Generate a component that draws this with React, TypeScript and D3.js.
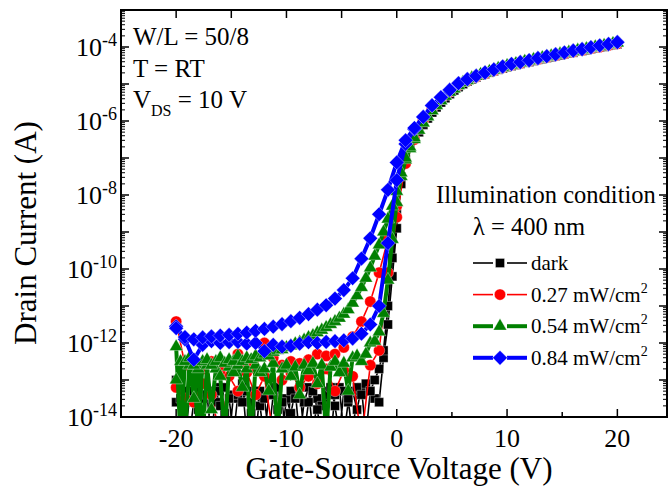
import React from 'react';
import * as d3 from 'd3';

// Gate sweeps: fine (0.4 V) and coarse (0.8 V) steps from -20 V to 20 V
const fineSweep = d3.range(101).map(i => -20 + 0.4 * i);
const coarseSweep = d3.range(51).map(i => -20 + 0.8 * i);

// log10(I_D) values. "Off" arrays cover the start of the sweep up to the knee,
// "On" arrays the shared above-threshold part (no hysteresis there).
const darkFwdOff = [
  -13.6, -13.2, -14.6, -13.5, -13.3, -13.8, -13.4, -14.5, -13.3, -13.6,
  -13.2, -13.9, -14.6, -13.4, -13.5, -13.1, -14.5, -13.6, -13.3, -13.7,
  -14.6, -13.4, -13.2, -13.8, -14.5, -13.5, -13.9, -13.3, -14.6, -13.6,
  -13.2, -14.5, -13.5, -13.7, -13.3, -14.6, -13.4, -13.2, -14.5, -13.6,
  -13.3, -13.8, -13.2, -14.5, -13.3, -13.5, -13.6, -12.4, -11.5, -10.2,
  -8.9, -7.7, -7.05, -6.7, -6.45,
];
const darkRevOff = [
  -13.0, -13.5, -13.3, -14.5, -13.6, -13.2, -13.5, -13.4, -14.6, -13.3,
  -13.7, -13.2, -13.5, -14.5, -13.4, -13.6, -13.3, -13.9, -14.6, -13.3,
  -13.5, -14.5, -13.4, -13.2, -13.6, -14.6, -13.3, -13.5, -13.2, -14.5,
  -13.6, -13.3, -13.8, -14.6, -13.4, -13.2, -13.7, -14.5, -13.3, -13.5,
  -14.6, -13.2, -13.4, -13.1, -13.3, -13.0, -12.7, -12.2, -11.0, -9.7,
  -8.5, -7.5, -7.0, -6.68, -6.43,
];
const darkOn = [
  -6.3, -6.1, -5.93, -5.77, -5.63, -5.5, -5.38, -5.27, -5.17, -5.08,
  -5.0, -4.93, -4.87, -4.82, -4.77, -4.73, -4.69, -4.65, -4.61, -4.58,
  -4.54, -4.51, -4.48, -4.45, -4.42, -4.4, -4.37, -4.34, -4.32, -4.29,
  -4.27, -4.24, -4.22, -4.19, -4.17, -4.15, -4.12, -4.1, -4.08, -4.05,
  -4.03, -4.01, -3.99, -3.96, -3.94, -3.92,
];

const redFwdOff = [
  -13.2, -13.5, -13.6, -13.1, -13.4, -14.6, -12.9, -13.3, -12.8, -13.4,
  -12.9, -14.5, -13.0, -12.8, -13.2, -12.9, -13.1, -12.7, -13.3, -12.75,
  -12.9, -14.6, -12.6, -12.2, -10.1, -8.6, -7.1, -6.48,
];
const redRevOff = [
  -11.42, -12.6, -12.9, -12.7, -12.5, -12.75, -12.6, -12.3, -12.55, -12.7,
  -12.0, -12.4, -12.6, -12.5, -12.55, -12.45, -12.3, -12.35, -12.3, -12.12,
  -11.83, -11.42, -10.88, -10.1, -9.2, -8.3, -7.15, -6.5,
];
const redOn = [
  -5.98, -5.65, -5.41, -5.21, -5.03, -4.91, -4.81, -4.72, -4.64, -4.56,
  -4.49, -4.44, -4.38, -4.33, -4.28, -4.23, -4.18, -4.13, -4.09, -4.04,
  -4.0, -3.95, -3.91,
];

const greenFwdOff = [
  -13.0, -12.5, -14.5, -12.6, -13.5, -12.7, -14.6, -12.6, -13.8, -12.7,
  -12.9, -14.5, -12.65, -12.8, -12.6, -13.2, -12.7, -14.6, -12.6, -12.8,
  -12.7, -13.3, -12.55, -14.5, -12.7, -12.6, -12.9, -12.65, -13.4, -12.6,
  -12.75, -12.55, -13.1, -12.6, -14.5, -12.65, -12.5, -12.8, -12.55, -13.3,
  -12.4, -12.35, -12.5, -12.3, -12.0, -11.95, -11.7, -11.2, -10.3, -9.2,
  -8.2, -7.5, -7.05, -6.75, -6.5,
];
const greenRevOff = [
  -12.1, -14.6, -12.5, -12.4, -12.6, -14.5, -12.5, -12.45, -12.6, -12.5,
  -12.4, -12.55, -12.45, -12.5, -12.35, -12.5, -12.4, -12.45, -12.35, -12.4,
  -12.3, -12.35, -12.25, -12.2, -12.18, -12.12, -12.08, -12.02, -11.98, -11.92,
  -11.85, -11.8, -11.72, -11.65, -11.58, -11.5, -11.42, -11.33, -11.22, -11.1,
  -10.92, -10.72, -10.5, -10.25, -9.97, -9.65, -9.35, -9.0, -8.65, -8.3,
  -7.9, -7.4, -7.0, -6.7, -6.45,
];
const greenOn = [
  -6.25, -6.05, -5.88, -5.72, -5.58, -5.45, -5.33, -5.22, -5.13, -5.04,
  -4.96, -4.9, -4.84, -4.79, -4.74, -4.7, -4.66, -4.62, -4.58, -4.55,
  -4.51, -4.48, -4.45, -4.42, -4.39, -4.37, -4.34, -4.31, -4.29, -4.26,
  -4.24, -4.21, -4.19, -4.16, -4.14, -4.12, -4.09, -4.07, -4.05, -4.02,
  -4.0, -3.98, -3.96, -3.93, -3.91, -3.89,
];

const blueFwdOff = [
  -11.55, -11.9, -12.45, -12.05, -11.95, -12.0, -11.98, -11.97, -12.02, -12.0,
  -12.22, -12.05, -12.1, -12.08, -12.02, -11.98, -12.0, -11.97, -11.95, -11.93,
  -11.88, -11.75, -11.5, -11.0, -9.3, -7.6, -6.62, -6.22,
];
const blueRevOff = [
  -11.6, -11.84, -11.9, -11.85, -11.82, -11.8, -11.78, -11.75, -11.72, -11.67,
  -11.62, -11.56, -11.49, -11.41, -11.32, -11.22, -11.1, -10.98, -10.8, -10.57,
  -10.25, -9.72, -9.17, -8.52, -7.86, -7.12, -6.52, -6.19,
];
const blueOn = [
  -5.89, -5.58, -5.36, -5.16, -4.98, -4.87, -4.78, -4.69, -4.61, -4.53,
  -4.46, -4.41, -4.36, -4.3, -4.25, -4.2, -4.15, -4.1, -4.06, -4.01,
  -3.96, -3.92, -3.87,
];

const legendNames = ['dark', '0.27', '0.54', '0.84'];
const xTickLabels = [-20, -10, 0, 10, 20];
const yTickExponents = [-14, -12, -10, -8, -6, -4];

type Shape = 'square' | 'circle' | 'triangle' | 'diamond';
interface Series {
  name: string;
  color: string;
  lineWidth: number;
  shape: Shape;
  size: number;
  volts: number[];
  fwd: number[];
  rev: number[];
}

const series: Series[] = [
  { name: legendNames[0], color: '#000000', lineWidth: 1.6, shape: 'square', size: 82, volts: fineSweep, fwd: [...darkFwdOff, ...darkOn], rev: [...darkRevOff, ...darkOn] },
  { name: legendNames[1], color: '#ff0000', lineWidth: 1.6, shape: 'circle', size: 100, volts: coarseSweep, fwd: [...redFwdOff, ...redOn], rev: [...redRevOff, ...redOn] },
  { name: legendNames[2], color: '#008000', lineWidth: 4, shape: 'triangle', size: 78, volts: fineSweep, fwd: [...greenFwdOff, ...greenOn], rev: [...greenRevOff, ...greenOn] },
  { name: legendNames[3], color: '#0000ff', lineWidth: 4, shape: 'diamond', size: 108, volts: coarseSweep, fwd: [...blueFwdOff, ...blueOn], rev: [...blueRevOff, ...blueOn] },
];

const FONT = "'Liberation Serif', 'Times New Roman', serif";

const plot = { left: 121, right: 667, top: 10, bottom: 417 };

function symbolPath(shape: Shape, size: number): string {
  const type =
    shape === 'circle' ? d3.symbolCircle : shape === 'triangle' ? d3.symbolTriangle : d3.symbolSquare;
  return d3.symbol().type(type).size(size)() || '';
}

function Marker({ shape, size, color, cx, cy }: { shape: Shape; size: number; color: string; cx: number; cy: number }) {
  const rot = shape === 'diamond' ? ' rotate(45)' : '';
  return (
    <path
      d={symbolPath(shape, size)}
      transform={`translate(${cx},${cy})${rot}`}
      fill={color}
      stroke="#ffffff"
      strokeWidth={0.35}
    />
  );
}

export default function App() {
  const x = d3.scaleLinear().domain([-25, 24.5]).range([plot.left, plot.right]);
  const y = d3.scaleLog().domain([1e-14, 1e-3]).range([plot.bottom, plot.top]);
  const line = d3
    .line<[number, number]>()
    .x(d => x(d[0]))
    .y(d => y(Math.pow(10, d[1])));

  const xTicks = d3.range(-20, 21, 5);
  const yMajor = d3.range(-14, -2);
  const yMinor: number[] = [];
  d3.range(-14, -3).forEach(e => {
    d3.range(2, 10).forEach(m => yMinor.push(m * Math.pow(10, e)));
  });

  return (
    <svg
      width={670}
      height={499}
      viewBox="0 0 670 499"
      style={{ position: 'absolute', left: 0, top: 0, background: '#fff' }}
      fontFamily={FONT}
    >
      <defs>
        <clipPath id="plotArea">
          <rect x={plot.left} y={plot.top} width={plot.right - plot.left} height={plot.bottom - plot.top} />
        </clipPath>
      </defs>
      <rect x={0} y={0} width={670} height={499} fill="#fff" />

      {/* data */}
      <g clipPath="url(#plotArea)">
        {series.map(s => {
          const fwdPts: [number, number][] = s.volts.map((v, i) => [v, s.fwd[i]]);
          const revPts: [number, number][] = s.volts.map((v, i) => [v, s.rev[i]]);
          const path = line([...fwdPts, ...revPts.slice().reverse()]) || '';
          return (
            <g key={s.name}>
              <path d={path} fill="none" stroke={s.color} strokeWidth={s.lineWidth} strokeLinejoin="miter" />
              {[...fwdPts, ...revPts].map((p, i) => (
                <Marker key={i} shape={s.shape} size={s.size} color={s.color} cx={x(p[0])} cy={y(Math.pow(10, p[1]))} />
              ))}
            </g>
          );
        })}
      </g>

      {/* frame */}
      <rect
        x={plot.left}
        y={plot.top}
        width={plot.right - plot.left}
        height={plot.bottom - plot.top}
        fill="none"
        stroke="#000"
        strokeWidth={2}
      />

      {/* x ticks (bottom and top, inward) */}
      {xTicks.map(t => {
        const len = t % 10 === 0 ? 8 : 5;
        return (
          <g key={`xt${t}`}>
            <line x1={x(t)} x2={x(t)} y1={plot.bottom} y2={plot.bottom - len} stroke="#000" strokeWidth={1.5} />
            <line x1={x(t)} x2={x(t)} y1={plot.top} y2={plot.top + 8} stroke="#000" strokeWidth={1.5} />
          </g>
        );
      })}
      {xTickLabels.map(t => (
        <text key={`xl${t}`} x={x(t)} y={447} fontSize={26} textAnchor="middle">
          {t < 0 ? `-${Math.abs(t)}` : `${t}`}
        </text>
      ))}

      {/* y ticks (left and right, inward) */}
      {yMajor.map(e => {
        const yy = y(Math.pow(10, e));
        return (
          <g key={`ym${e}`}>
            <line x1={plot.left} x2={plot.left + 8} y1={yy} y2={yy} stroke="#000" strokeWidth={1.5} />
            <line x1={plot.right} x2={plot.right - 8} y1={yy} y2={yy} stroke="#000" strokeWidth={1.5} />
          </g>
        );
      })}
      {yMinor.map((v, i) => {
        const yy = y(v);
        return (
          <g key={`yn${i}`}>
            <line x1={plot.left} x2={plot.left + 4} y1={yy} y2={yy} stroke="#000" strokeWidth={1} />
            <line x1={plot.right} x2={plot.right - 4} y1={yy} y2={yy} stroke="#000" strokeWidth={1} />
          </g>
        );
      })}
      {yTickExponents.map(e => {
        const yy = y(Math.pow(10, e));
        return (
          <text key={`yl${e}`} x={117} y={yy + 9} fontSize={26} textAnchor="end">
            <tspan>10</tspan>
            <tspan fontSize={18} dy={-10}>{`-${Math.abs(e)}`}</tspan>
          </text>
        );
      })}

      {/* axis titles */}
      <text x={399} y={479} fontSize={31} textAnchor="middle">
        Gate-Source Voltage (V)
      </text>
      <text transform="translate(36,233) rotate(-90)" fontSize={31} textAnchor="middle">
        Drain Current (A)
      </text>

      {/* device conditions */}
      <text x={133} y={45} fontSize={25}>W/L = 50/8</text>
      <text x={133} y={77} fontSize={25}>T = RT</text>
      <text x={133} y={108} fontSize={25}>
        <tspan>V</tspan>
        <tspan fontSize={16} dy={8}>DS</tspan>
        <tspan dy={-8}> = 10 V</tspan>
      </text>

      {/* legend */}
      <text x={436} y={203} fontSize={24.5}>Illumination condition</text>
      <text x={473} y={235} fontSize={24.5}>λ = 400 nm</text>
      {series.map((s, i) => {
        const base = 270 + i * 31.6;
        const cy = base - 7;
        return (
          <g key={`lg${s.name}`}>
            <line x1={473} x2={493} y1={cy} y2={cy} stroke={s.color} strokeWidth={s.lineWidth} />
            <line x1={507} x2={527} y1={cy} y2={cy} stroke={s.color} strokeWidth={s.lineWidth} />
            <Marker shape={s.shape} size={s.size} color={s.color} cx={500} cy={cy} />
            <text x={531} y={base} fontSize={21}>
              {i === 0 ? (
                s.name
              ) : (
                <>
                  <tspan>{`${s.name} mW/cm`}</tspan>
                  <tspan fontSize={14} dy={-9}>2</tspan>
                </>
              )}
            </text>
          </g>
        );
      })}
    </svg>
  );
}
